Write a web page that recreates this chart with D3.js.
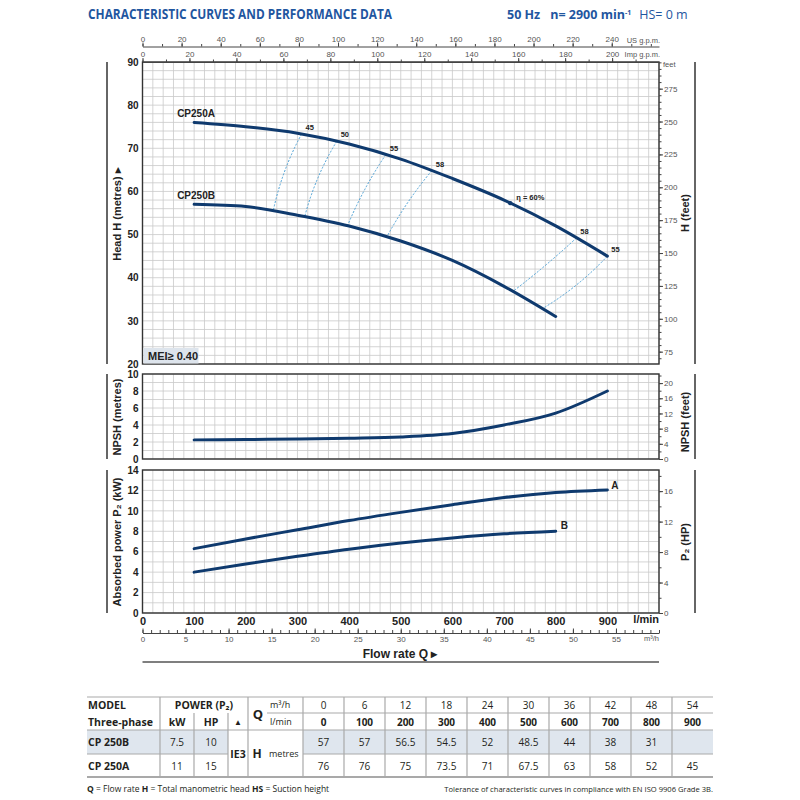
<!DOCTYPE html>
<html>
<head>
<meta charset="utf-8">
<script src="https://cdn.jsdelivr.net/npm/d3@7"></script>
<style>
  body { margin: 0; background: #fff; }
  svg text { font-family: "Liberation Sans Narrow", "Liberation Sans", Arial, sans-serif; }
  svg text.os, svg .os text { font-family: "Open Sans", "Liberation Sans", sans-serif; }
</style>
</head>
<body>
<svg id="chart" width="800" height="800"></svg>
<script>
// ---- data ----
const flowLmin = [0, 100, 200, 300, 400, 500, 600, 700, 800, 900];
const flowM3h = [0, 6, 12, 18, 24, 30, 36, 42, 48, 54];
const headB = [57, 57, 56.5, 54.5, 52, 48.5, 44, 38, 31, null];
const headA = [76, 76, 75, 73.5, 71, 67.5, 63, 58, 52, 45];

const curveQ = [100, 200, 300, 400, 500, 600, 700, 800, 900];
const npshM = [2.25, 2.3, 2.35, 2.45, 2.6, 3.0, 4.0, 5.4, 8.0];
const powerA = [6.3, 7.25, 8.15, 9.05, 9.85, 10.6, 11.3, 11.8, 12.05];
const powerB = [4.0, 4.8, 5.55, 6.25, 6.85, 7.35, 7.75, 8.0];

// iso-efficiency lines: flow where they meet curve A and curve B
const effLabels = ["45", "50", "55", "58", "58", "55"];
const effQA = [308, 376, 471, 560, 840, 900];
const effQB = [253, 314, 397, 473, 717, 774];
const effBend = [3, 3, 2, 2, -1, -3];
const bestEff = { q: 712, label: "η = 60%" };

const models = [
  { name: "CP 250B", kw: "7.5", hp: "10", head: headB },
  { name: "CP 250A", kw: "11", hp: "15", head: headA }
];

// ---- scales ----
const BLUE = "#0f3a6e";
const GRID = "#c9c9c9";
const X0 = 142.5, X1 = 659;
const x = d3.scaleLinear().domain([0, 1000]).range([X0, X1]);
const xUS = d3.scaleLinear().domain([0, 1000 / 3.78541]).range([X0, X1]);
const xImp = d3.scaleLinear().domain([0, 1000 / 4.54609]).range([X0, X1]);
const xM3 = d3.scaleLinear().domain([0, 60]).range([X0, X1]);

const yH = d3.scaleLinear().domain([20, 90]).range([364, 62]);
const yHft = d3.scaleLinear().domain([20 * 3.2808, 90 * 3.2808]).range([364, 62]);
const yN = d3.scaleLinear().domain([0, 10]).range([459, 374]);
const yNft = d3.scaleLinear().domain([0, 22.4]).range([459, 374]);
const yP = d3.scaleLinear().domain([0, 14]).range([613, 470]);
const yPhp = d3.scaleLinear().domain([0, 14 * 1.341]).range([613, 470]);

const svg = d3.select("#chart");

// ---- title ----
svg.append("text").attr("class", "os")
  .attr("x", 88).attr("y", 19)
  .attr("textLength", 304).attr("lengthAdjust", "spacingAndGlyphs")
  .style("font-size", "13.5px").style("font-weight", "bold").style("fill", "#1f56a0")
  .text("CHARACTERISTIC CURVES AND PERFORMANCE DATA");
let sub = svg.append("text").attr("class", "os").attr("x", 507).attr("y", 19)
  .style("font-size", "12.5px").style("fill", "#1f56a0");
sub.append("tspan").style("font-weight", "bold").text("50 Hz");
sub.append("tspan").attr("dx", 10).style("font-weight", "bold").text("n= 2900 min");
sub.append("tspan").attr("dy", -4).style("font-size", "7px").style("font-weight", "bold").text("-1");
sub.append("tspan").attr("dy", 4).attr("dx", 8).text("HS= 0 m");

// ---- panels ----
function panel(yScale, step) {
  const g = svg.append("g");
  const [d0, d1] = yScale.domain();
  g.selectAll(".gv").data(d3.range(0, 1001, 20)).join("line")
    .attr("x1", d => x(d)).attr("x2", d => x(d))
    .attr("y1", yScale(d0)).attr("y2", yScale(d1))
    .attr("stroke", GRID).attr("stroke-width", 0.8);
  g.selectAll(".gh").data(d3.range(d0, d1 + 0.001, step)).join("line")
    .attr("x1", X0).attr("x2", X1)
    .attr("y1", d => yScale(d)).attr("y2", d => yScale(d))
    .attr("stroke", GRID).attr("stroke-width", 0.8);
  g.append("rect")
    .attr("x", X0).attr("y", yScale(d1))
    .attr("width", X1 - X0).attr("height", yScale(d0) - yScale(d1))
    .attr("fill", "none").attr("stroke", "#333").attr("stroke-width", 1.4);
  // side bars
  [107, 695].forEach(bx => {
    g.append("line").attr("x1", bx).attr("x2", bx)
      .attr("y1", yScale(d1)).attr("y2", yScale(d0))
      .attr("stroke", "#333").attr("stroke-width", 1.5);
  });
  return g;
}

function leftAxis(yScale, vals) {
  svg.append("g").attr("transform", `translate(${X0},0)`)
    .call(d3.axisLeft(yScale).tickValues(vals).tickSize(0).tickPadding(4))
    .call(a => a.select(".domain").remove())
    .selectAll("text").style("font-size", "10px").style("font-weight", "bold").style("fill", "#222");
}

function rightAxis(yScale, major, minor) {
  svg.append("g").attr("transform", `translate(${X1},0)`)
    .call(d3.axisRight(yScale).tickValues(minor).tickSize(2.5).tickFormat(""))
    .call(a => a.select(".domain").remove())
    .selectAll("line").attr("stroke", "#444");
  svg.append("g").attr("transform", `translate(${X1},0)`)
    .call(d3.axisRight(yScale).tickValues(major).tickSize(4).tickPadding(1))
    .call(a => a.select(".domain").remove())
    .call(a => a.selectAll("line").attr("stroke", "#444"))
    .selectAll("text").style("font-size", "8px").style("fill", "#555");
}

function sideLabel(txt, cx, cy) {
  svg.append("text")
    .attr("transform", `translate(${cx},${cy}) rotate(-90)`)
    .attr("text-anchor", "middle").attr("dy", "0.35em")
    .style("font-size", "11px").style("font-weight", "bold").style("fill", "#222")
    .text(txt);
}

panel(yH, 2);
panel(yN, 1);
panel(yP, 1);

leftAxis(yH, d3.range(20, 91, 10));
leftAxis(yN, d3.range(0, 11, 2));
leftAxis(yP, d3.range(0, 15, 2));

rightAxis(yHft, d3.range(75, 276, 25), d3.range(70, 296, 5));
rightAxis(yNft, d3.range(0, 21, 4), d3.range(0, 23, 2));
rightAxis(yPhp, d3.range(0, 17, 4), d3.range(0, 19, 2));

svg.append("text").attr("x", 663).attr("y", 67)
  .style("font-size", "7.5px").style("fill", "#555").text("feet");

sideLabel("Head H (metres)  ▸", 117, 214);
sideLabel("NPSH  (metres)", 117, 417);
sideLabel("Absorbed power P₂  (kW)", 117, 542);
sideLabel("H (feet)", 685, 213);
sideLabel("NPSH  (feet)", 685, 422);
sideLabel("P₂  (HP)", 685, 542);

// ---- top flow axes ----
function flowAxis(scale, y, major, minor, name, labelY) {
  const g = svg.append("g").attr("transform", `translate(0,${y})`);
  g.call(d3.axisTop(scale).tickValues(minor).tickSize(2.5).tickSizeOuter(0).tickFormat(""))
    .call(a => a.select(".domain").attr("stroke", "#444"))
    .call(a => a.selectAll("line").attr("stroke", "#444"));
  svg.append("g").attr("transform", `translate(0,${y})`)
    .call(d3.axisTop(scale).tickValues(major).tickSize(4).tickPadding(1))
    .call(a => a.select(".domain").remove())
    .call(a => a.selectAll("line").attr("stroke", "#444"))
    .selectAll("text").style("font-size", "8px").style("fill", "#555");
  svg.append("text").attr("x", 660).attr("y", labelY).attr("text-anchor", "end")
    .style("font-size", "7.5px").style("fill", "#555").text(name);
}
flowAxis(xUS, 46.5, d3.range(0, 241, 20), d3.range(0, 261, 10), "US g.p.m.", 42.5);
flowAxis(xImp, 62, d3.range(0, 201, 20), d3.range(0, 211, 10), "Imp g.p.m.", 56.5);

// ---- bottom axes ----
svg.append("g").attr("transform", `translate(0,613)`)
  .call(d3.axisBottom(x).tickValues(d3.range(0, 901, 100)).tickSize(0).tickPadding(4))
  .call(a => a.select(".domain").remove())
  .selectAll("text").style("font-size", "11px").style("font-weight", "bold").style("fill", "#222");
svg.append("text").attr("x", 659).attr("y", 623).attr("text-anchor", "end")
  .style("font-size", "11px").style("font-weight", "bold").style("fill", "#222").text("l/min");

svg.append("g").attr("transform", `translate(0,633)`)
  .call(d3.axisBottom(xM3).tickValues(d3.range(0, 61, 1)).tickSize(-3).tickSizeOuter(0).tickFormat(""))
  .call(a => a.select(".domain").attr("stroke", "#444"))
  .call(a => a.selectAll("line").attr("stroke", "#444"));
svg.append("g").attr("transform", `translate(0,633)`)
  .call(d3.axisBottom(xM3).tickValues(d3.range(0, 56, 5)).tickSize(-4.5).tickPadding(3))
  .call(a => a.select(".domain").remove())
  .call(a => a.selectAll("line").attr("stroke", "#444"))
  .selectAll("text").style("font-size", "8px").style("fill", "#555");
svg.append("text").attr("x", 659).attr("y", 641).attr("text-anchor", "end")
  .style("font-size", "7.5px").style("fill", "#555").text("m³/h");

svg.append("text").attr("x", 400).attr("y", 658).attr("text-anchor", "middle")
  .style("font-size", "12px").style("font-weight", "bold").style("fill", "#222").text("Flow rate  Q  ▸");
svg.append("line").attr("x1", X0).attr("x2", X1).attr("y1", 662).attr("y2", 662)
  .attr("stroke", "#555").attr("stroke-width", 1.6);

// ---- curves ----
const qA = flowLmin.slice(1), hA = headA.slice(1);
const qB = flowLmin.slice(1, 9), hB = headB.slice(1, 9);
const onA = d3.scaleLinear().domain(qA).range(hA);
const onB = d3.scaleLinear().domain(qB).range(hB);

// iso-efficiency dashed lines
effLabels.forEach((lab, i) => {
  const ax = x(effQA[i]), ay = yH(onA(effQA[i]));
  const bx = x(effQB[i]), by = yH(onB(effQB[i]));
  const dx = bx - ax, dy = by - ay, len = Math.hypot(dx, dy);
  const cx = (ax + bx) / 2 - dy / len * effBend[i] * 2;
  const cy = (ay + by) / 2 + dx / len * effBend[i] * 2;
  svg.append("path")
    .attr("d", `M${ax},${ay}Q${cx},${cy} ${bx},${by}`)
    .attr("fill", "none").attr("stroke", "#4a9fd4").attr("stroke-width", 1)
    .attr("stroke-dasharray", "2,1.6");
  svg.append("text").attr("x", ax + 4).attr("y", ay - 4)
    .style("font-size", "7.5px").style("font-weight", "bold").style("fill", "#222").text(lab);
});

const lineFn = d3.line().x(d => x(d[0])).curve(d3.curveMonotoneX);
function drawCurve(qs, vs, yScale) {
  svg.append("path")
    .datum(d3.zip(qs, vs))
    .attr("d", lineFn.y(d => yScale(d[1])))
    .attr("fill", "none").attr("stroke", BLUE).attr("stroke-width", 3)
    .attr("stroke-linecap", "round");
}
drawCurve(qA, hA, yH);
drawCurve(qB, hB, yH);
drawCurve(curveQ, npshM, yN);
drawCurve(curveQ, powerA, yP);
drawCurve(curveQ.slice(0, powerB.length), powerB, yP);

// best efficiency mark
svg.append("circle").attr("cx", x(bestEff.q)).attr("cy", yH(onA(bestEff.q)))
  .attr("r", 2.2).attr("fill", BLUE);
svg.append("text").attr("x", x(bestEff.q) + 6).attr("y", yH(onA(bestEff.q)) - 3)
  .style("font-size", "7.5px").style("font-weight", "bold").style("fill", "#222").text(bestEff.label);

function curveLabel(txt, lx, ly, size) {
  svg.append("text").attr("x", lx).attr("y", ly)
    .style("font-size", size).style("font-weight", "bold").style("fill", "#222").text(txt);
}
curveLabel("CP250A", x(qA[0]) - 17, yH(hA[0]) - 5, "10px");
curveLabel("CP250B", x(qB[0]) - 17, yH(hB[0]) - 5, "10px");
curveLabel("A", x(900) + 4, yP(powerA[8]) - 1, "10px");
curveLabel("B", x(800) + 5, yP(powerB[7]) - 2, "10px");

// MEI box
svg.append("rect").attr("x", X0 + 1).attr("y", 348).attr("width", 55).attr("height", 15.5)
  .attr("fill", "#dde4ec");
svg.append("text").attr("x", 148).attr("y", 360)
  .style("font-size", "11px").style("font-weight", "bold").style("fill", "#222").text("MEI≥ 0.40");

// ---- table ----
const T = svg.append("g").attr("class", "os");
const colX = d3.range(0, 11).map(i => 303 + i * 41);
const TL = 87, TR = colX[10];
const rowY = [697, 713, 730, 754, 777];
const LINE = "#a9a9a9";

T.append("rect").attr("x", TL).attr("y", rowY[2]).attr("width", 228 - TL).attr("height", rowY[3] - rowY[2]).attr("fill", "#dfe6ee");
T.append("rect").attr("x", colX[0]).attr("y", rowY[2]).attr("width", TR - colX[0]).attr("height", rowY[3] - rowY[2]).attr("fill", "#dfe6ee");

function hline(x1, x2, y, w) {
  T.append("line").attr("x1", x1).attr("x2", x2).attr("y1", y).attr("y2", y)
    .attr("stroke", LINE).attr("stroke-width", w || 1.2);
}
function vline(xx, y1, y2) {
  T.append("line").attr("x1", xx).attr("x2", xx).attr("y1", y1).attr("y2", y2)
    .attr("stroke", LINE).attr("stroke-width", 1.2);
}
hline(TL, TR, rowY[0]);
hline(267, TR, rowY[1]);
hline(TL, TR, rowY[2]);
hline(TL, 228, rowY[3]);
hline(colX[0], TR, rowY[3]);
hline(TL, TR, rowY[4], 1.8);
[160, 248].concat(colX.slice(0, 10)).forEach(v => vline(v, rowY[0], rowY[4]));
[194, 228].forEach(v => vline(v, rowY[1], rowY[4]));

function cell(txt, cx, cy, opts) {
  opts = opts || {};
  T.append("text").attr("x", cx).attr("y", cy).attr("dy", "0.35em")
    .attr("text-anchor", opts.anchor || "middle")
    .style("font-size", (opts.size || 10) + "px")
    .style("font-weight", opts.bold ? "bold" : "normal")
    .style("fill", "#231f20").text(txt);
}
cell("MODEL", 88, 705, { anchor: "start", bold: true, size: 10.5 });
cell("Three-phase", 88, 722, { anchor: "start", bold: true, size: 10.5 });
cell("POWER (P₂)", 204, 705, { bold: true, size: 10.5 });
cell("kW", 177, 722, { bold: true, size: 10.5 });
cell("HP", 211, 722, { bold: true, size: 10.5 });
cell("▲", 238, 722, { size: 8 });
cell("Q", 258, 714, { bold: true, size: 13 });
cell("m³/h", 270, 705, { anchor: "start", size: 9 });
cell("l/min", 270, 722, { anchor: "start", size: 9 });
cell("IE3", 238, 754, { bold: true, size: 10.5 });
cell("H", 257, 754, { bold: true, size: 12 });
cell("metres", 269, 754, { anchor: "start", size: 9 });

flowM3h.forEach((v, i) => cell(v, (colX[i] + colX[i + 1]) / 2, 705));
flowLmin.forEach((v, i) => cell(v, (colX[i] + colX[i + 1]) / 2, 722, { bold: true }));

const rowMid = [742, 766];
models.forEach((m, r) => {
  cell(m.name, 88, rowMid[r], { anchor: "start", bold: true, size: 10.5 });
  cell(m.kw, 177, rowMid[r]);
  cell(m.hp, 211, rowMid[r]);
  m.head.forEach((v, i) => {
    if (v !== null) cell(v, (colX[i] + colX[i + 1]) / 2, rowMid[r]);
  });
});

// footer
let foot = T.append("text").attr("x", 87).attr("y", 792).style("font-size", "8.5px").style("fill", "#231f20");
foot.append("tspan").style("font-weight", "bold").text("Q");
foot.append("tspan").text(" = Flow rate  ");
foot.append("tspan").style("font-weight", "bold").text("H");
foot.append("tspan").text(" = Total manometric head  ");
foot.append("tspan").style("font-weight", "bold").text("HS");
foot.append("tspan").text(" = Suction height");
T.append("text").attr("x", TR).attr("y", 792).attr("text-anchor", "end")
  .style("font-size", "7.6px").style("fill", "#231f20")
  .text("Tolerance of characteristic curves in compliance with EN ISO 9906 Grade 3B.");
</script>
</body>
</html>
